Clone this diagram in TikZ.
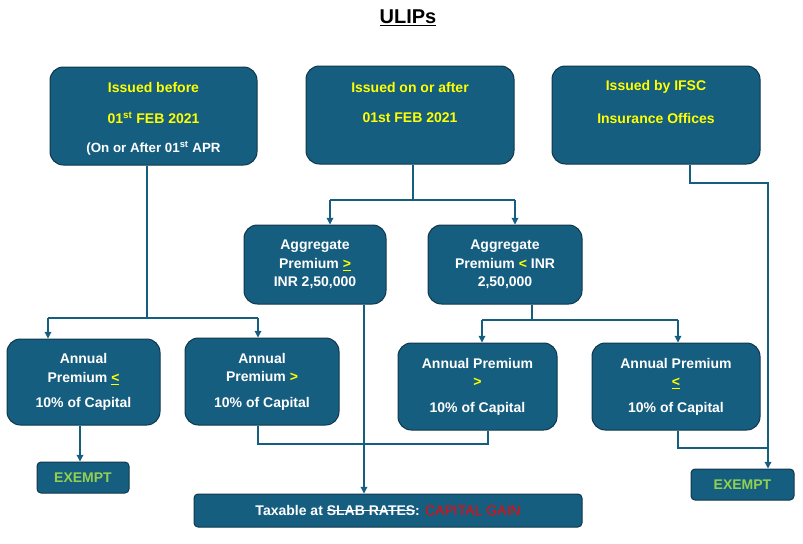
\documentclass[tikz,border=0pt]{standalone}
\usepackage{fontspec}
\setmainfont{Liberation Sans}
\newcommand\strk[1]{\setbox0\hbox{#1}\rlap{\raisebox{0.32em}{\rule{\wd0}{0.6pt}}}\box0}
\definecolor{boxfill}{RGB}{22,94,128}
\definecolor{boxline}{RGB}{16,55,75}
\definecolor{ylw}{RGB}{255,255,0}
\definecolor{grn}{RGB}{146,208,80}
\definecolor{redtxt}{RGB}{255,0,0}
\tikzset{every picture/.style={line width=0.75pt}}
\tikzset{
  ubox/.style={draw=boxline,fill=boxfill,rounded corners=10pt,text=white,align=center,
    font=\bfseries\fontsize{10.5}{14}\selectfont,inner sep=0pt},
  conn/.style={draw=boxfill,line width=0.9pt},
  arr/.style={conn,-{Triangle[length=5pt,width=5pt]}}
}
\usetikzlibrary{arrows.meta}
\begin{document}
\begin{tikzpicture}[x=0.75pt,y=0.75pt,yscale=-1,xscale=1]
\useasboundingbox (0,0) rectangle (803,543);

% Title
\node (title) at (408,18) {\bfseries\fontsize{15}{18}\selectfont\underline{ULIPs}};

% Top row
\node [ubox,minimum width=155.25pt,minimum height=73.5pt] (before) at (153.5,116) {};
\node [text=ylw,font=\bfseries\fontsize{10.5}{14}\selectfont] at (153.5,87) {Issued before};
\node [text=ylw,font=\bfseries\fontsize{10.5}{14}\selectfont] at (153.5,118) {01\textsuperscript{st} FEB 2021};
\node [text=white,font=\bfseries\fontsize{10}{14}\selectfont] at (153.5,148) {(On or After 01\textsuperscript{st} APR};

\node [ubox,minimum width=156pt,minimum height=73.5pt] (after) at (410,115) {};
\node [text=ylw,font=\bfseries\fontsize{10.5}{14}\selectfont] at (410,87) {Issued on or after};
\node [text=ylw,font=\bfseries\fontsize{10.5}{14}\selectfont] at (410,118) {01st FEB 2021};

\node [ubox,minimum width=156pt,minimum height=73.5pt] (ifsc) at (656,115) {};
\node [text=ylw,font=\bfseries\fontsize{10.5}{14}\selectfont] at (656,87) {Issued by IFSC};
\node [text=ylw,font=\bfseries\fontsize{10.5}{14}\selectfont] at (656,118) {Insurance Offices};

% Aggregate premium
\node [ubox,minimum width=106.5pt,minimum height=59.25pt] (aggge) at (315,264.5)
  {Aggregate\\Premium \textcolor{ylw}{\underline{>}}\\INR 2,50,000};
\node [ubox,minimum width=115.5pt,minimum height=59.25pt] (agglt) at (505,264.5)
  {Aggregate\\Premium \textcolor{ylw}{<} INR\\2,50,000};

% Annual premium
\node [ubox,minimum width=114.75pt,minimum height=64.5pt] (annle) at (83.5,382)
  {Annual\\Premium \textcolor{ylw}{\underline{<}}\\[5pt]10\% of Capital};
\node [ubox,minimum width=115.5pt,minimum height=65.25pt] (anngt) at (262,381.5)
  {Annual\\Premium \textcolor{ylw}{>}\\[5pt]10\% of Capital};
\node [ubox,minimum width=119.25pt,minimum height=65.25pt] (anngtb) at (477.5,386.5)
  {Annual Premium\\\textcolor{ylw}{>}\\[5pt]10\% of Capital};
\node [ubox,minimum width=126pt,minimum height=65.25pt] (annleb) at (676,386.5)
  {Annual Premium\\\textcolor{ylw}{\underline{<}}\\[5pt]10\% of Capital};

% Results
\node [ubox,rounded corners=3pt,minimum width=69pt,minimum height=23.25pt,text=grn] (exa) at (83,477.5) {EXEMPT};
\node [ubox,rounded corners=3pt,minimum width=77.25pt,minimum height=23.25pt,text=grn] (exb) at (742.5,484.5) {EXEMPT};
\node [ubox,rounded corners=3pt,minimum width=291pt,minimum height=24.75pt] (tax) at (388,510.5)
  {Taxable at \strk{SLAB RATES} : \textcolor{redtxt}{\mdseries CAPITAL GAIN}};

% Connectors
\draw [conn] (before.south -| 147,0) -- (147,318);
\draw [conn] (48,318) -- (258,318);
\draw [arr] (48,318) -- (annle.north -| 48,0);
\draw [arr] (258,318) -- (anngt.north -| 258,0);

\draw [conn] (after.south -| 413,0) -- (413,200) coordinate (bsplit);
\draw [conn] (330,200) -- (515,200);
\draw [arr] (330,200) -- (aggge.north -| 330,0);
\draw [arr] (515,200) -- (agglt.north -| 515,0);

\draw [arr] (aggge.south -| 364,0) -- (tax.north -| 364,0);

\draw [conn] (agglt.south -| 532,0) -- (532,320);
\draw [conn] (482,320) -- (678,320);
\draw [arr] (482,320) -- (anngtb.north -| 482,0);
\draw [arr] (678,320) -- (annleb.north -| 678,0);

\draw [arr] (annle.south -| 80,0) -- (exa.north -| 80,0);
\draw [conn] (anngt.south -| 258,0) -- (258,444) -- (488,444) -- (anngtb.south -| 488,0);

\draw [conn] (annleb.south -| 678,0) -- (678,448) -- (768,448);
\draw [arr] (ifsc.south -| 690,0) -- (690,183) -- (768,183) -- (exb.north -| 768,0);
\end{tikzpicture}
\end{document}
